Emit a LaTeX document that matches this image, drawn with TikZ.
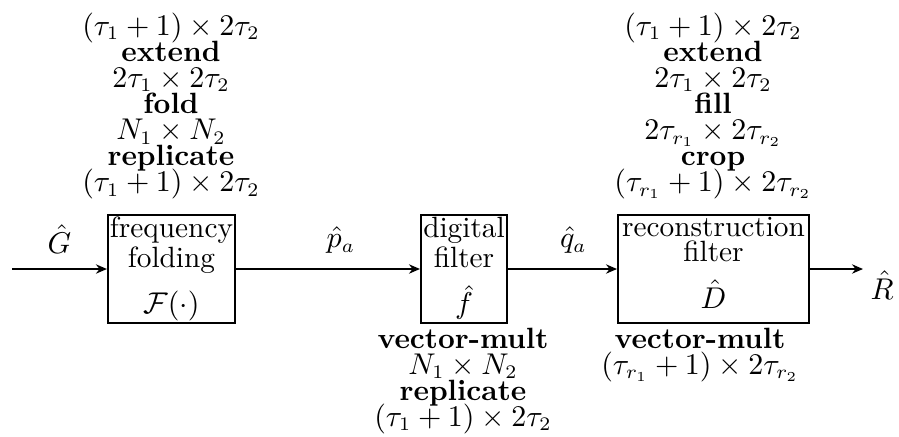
\documentclass[tikz,border=0pt]{standalone}
\usepackage{amsmath}
\usetikzlibrary{arrows.meta}
\newcommand\opsfont{\fontsize{10.7}{9.5}\selectfont\lineskiplimit=-5pt\relax}
\begin{document}
\begin{tikzpicture}[x=.365pt,y=-.365pt,font=\fontsize{10.7}{12.8}\selectfont,
  box/.style={draw,line width=.75pt,minimum height=39.4pt,inner sep=0pt},
  boxtext/.style={below,inner sep=1pt,align=center,font=\fontsize{10.7}{9.1}\selectfont},
  ops/.style={align=center,inner sep=0pt,font=\opsfont},
  sig/.style={line width=.75pt,-{Stealth[length=4pt,width=3.4pt]}}]
\useasboundingbox (0,0) rectangle (899,436);
% blocks
\node[box,minimum width=46.4pt] (fold) at (171.5,269) {};
\node[box,minimum width=31.4pt] (dig) at (464,269) {};
\node[box,minimum width=69.7pt] (rec) at (713.5,269) {};
\node[boxtext] (foldtxt) at (fold.north) {frequency\\folding\\[5.5pt]$\mathcal{F}(\cdot)$};
\node[boxtext] (digtxt) at (dig.north) {digital\\filter\\[5.5pt]$\hat{f}$};
\node[boxtext] (rectxt) at (rec.north) {reconstruction\\filter\\[5.5pt]$\hat{D}$};
% signals
\coordinate (in) at (12,269);
\coordinate (out) at (863,269);
\draw[sig] (in) -- node[above=2pt] (G) {$\hat{G}$} (fold);
\draw[sig] (fold) -- node[above=2pt,pos=.57] (pa) {$\hat{p}_a$} (dig);
\draw[sig] (dig) -- node[above=2pt,pos=.6] (qa) {$\hat{q}_a$} (rec);
\draw[sig] (rec) -- (out);
\node (R) at (882,285) {$\hat{R}$};
% operations
\node[ops] (foldops) at (171,106) {$(\tau_1+1)\times2\tau_2$\\\textbf{extend}\\$2\tau_1\times2\tau_2$\\\textbf{fold}\\$N_1\times N_2$\\\textbf{replicate}\\$(\tau_1+1)\times2\tau_2$};
\node[ops] (recops) at (713,106) {$(\tau_1+1)\times2\tau_2$\\\textbf{extend}\\$2\tau_1\times2\tau_2$\\\textbf{fill}\\$2\tau_{r_1}\times2\tau_{r_2}$\\\textbf{crop}\\$(\tau_{r_1}+1)\times2\tau_{r_2}$};
\node[ops] (digops) at (463,381) {\textbf{vector-mult}\\$N_1\times N_2$\\\textbf{replicate}\\$(\tau_1+1)\times2\tau_2$};
\node[ops] (recops2) at (700,355) {\textbf{vector-mult}\\$(\tau_{r_1}+1)\times2\tau_{r_2}$};
\end{tikzpicture}
\end{document}
